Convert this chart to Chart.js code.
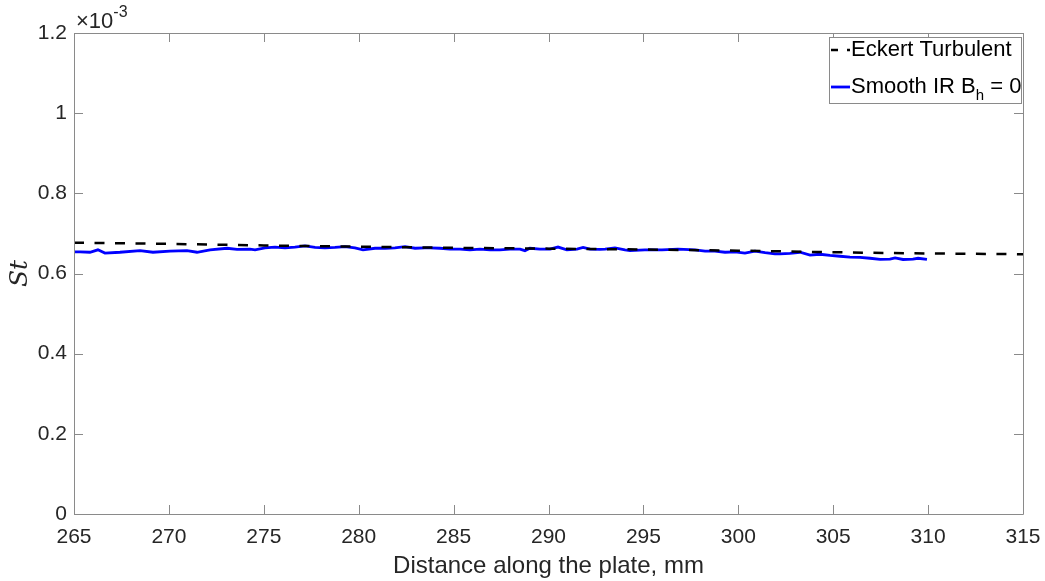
<!DOCTYPE html>
<html lang="en">
  <head>
    <meta charset="UTF-8" />
    <title>St along the plate</title>
    <script src="https://cdn.jsdelivr.net/npm/chart.js@4.4.0/dist/chart.umd.min.js"></script>
    <style>
      body { margin: 0; background: #fff; }
      #wrap { width: 1045px; height: 581px; position: relative; }
    </style>
  </head>
  <body>
    <div id="wrap"><canvas id="myChart"></canvas></div>
    <script>
      // St values are in units of 1e-3 (axis shows x10^-3)
      const eckertX = [265, 270, 275, 280, 285, 290, 295, 300, 305, 310, 315];
      const eckertSt = [0.677, 0.674, 0.670, 0.667, 0.664, 0.662, 0.660, 0.657, 0.653, 0.650, 0.648];

      const irX = [265.0, 265.32, 265.84, 266.26, 266.63, 267.42, 268.48, 269.16, 270.06, 270.95,
        271.48, 272.17, 273.06, 273.59, 274.27, 274.54, 275.06, 275.59, 276.12, 276.64,
        277.17, 277.70, 278.22, 278.75, 279.28, 279.80, 280.23, 280.86, 281.39, 281.91,
        282.44, 282.97, 283.49, 283.76, 284.28, 284.81, 285.34, 285.86, 286.39, 286.92,
        287.44, 287.97, 288.50, 288.76, 289.02, 289.55, 290.08, 290.50, 290.97, 291.50,
        291.82, 292.19, 292.71, 292.98, 293.50, 294.03, 294.29, 295.08, 295.98, 296.82,
        297.72, 298.25, 298.77, 299.30, 299.83, 300.35, 300.88, 301.41, 301.93, 302.20,
        302.72, 303.25, 303.78, 304.30, 304.83, 305.36, 305.88, 306.41, 306.94, 307.47,
        307.99, 308.26, 308.68, 309.20, 309.47, 309.94];
      const irSt = [0.654, 0.654, 0.653, 0.659, 0.651, 0.653, 0.657, 0.653, 0.656, 0.657,
        0.653, 0.659, 0.663, 0.660, 0.661, 0.659, 0.664, 0.666, 0.664, 0.666,
        0.669, 0.665, 0.664, 0.665, 0.667, 0.664, 0.659, 0.663, 0.663, 0.664,
        0.667, 0.663, 0.664, 0.664, 0.663, 0.661, 0.661, 0.659, 0.661, 0.659,
        0.659, 0.661, 0.661, 0.657, 0.663, 0.661, 0.661, 0.666, 0.659, 0.661,
        0.665, 0.661, 0.660, 0.661, 0.664, 0.659, 0.657, 0.659, 0.659, 0.661,
        0.659, 0.656, 0.656, 0.653, 0.654, 0.651, 0.656, 0.652, 0.649, 0.649,
        0.650, 0.653, 0.646, 0.648, 0.645, 0.643, 0.641, 0.640, 0.638, 0.635,
        0.636, 0.639, 0.635, 0.636, 0.638, 0.635];

      const legendNames = ['Eckert Turbulent', 'Smooth IR B', '= 0'];

      const textColor = '#262626';
      const boxColor = '#8a8a8a';

      function toPoints(xs, ys) {
        return xs.map((x, i) => ({ x: x, y: ys[i] }));
      }

      // box around plot + inward ticks on all four sides, MATLAB style
      const boxPlugin = {
        id: 'box',
        afterDatasetsDraw(chart) {
          const ctx = chart.ctx;
          const a = chart.chartArea;
          const xs = chart.scales.x, ys = chart.scales.y;
          const tl = 9;
          ctx.save();
          ctx.strokeStyle = boxColor;
          ctx.lineWidth = 1;
          ctx.beginPath();
          ctx.rect(a.left + 0.5, a.top + 0.5, a.right - a.left, a.bottom - a.top);
          ctx.stroke();
          ctx.beginPath();
          xs.ticks.forEach(t => {
            const px = Math.round(xs.getPixelForValue(t.value)) + 0.5;
            ctx.moveTo(px, a.bottom); ctx.lineTo(px, a.bottom - tl);
            ctx.moveTo(px, a.top); ctx.lineTo(px, a.top + tl);
          });
          ys.ticks.forEach(t => {
            const py = Math.round(ys.getPixelForValue(t.value)) + 0.5;
            ctx.moveTo(a.left, py); ctx.lineTo(a.left + tl, py);
            ctx.moveTo(a.right, py); ctx.lineTo(a.right - tl, py);
          });
          ctx.stroke();

          // exponent label
          ctx.fillStyle = textColor;
          ctx.textBaseline = 'alphabetic';
          ctx.textAlign = 'left';
          ctx.font = '22px "Liberation Sans", Arial, sans-serif';
          ctx.fillText('\u00d710', a.left + 2, a.top - 5);
          const w = ctx.measureText('\u00d710').width;
          ctx.font = '16px "Liberation Sans", Arial, sans-serif';
          ctx.fillText('-3', a.left + 2 + w, a.top - 16);

          // legend
          const lx = 829, ly = 37, lw = 192, lh = 66;
          ctx.fillStyle = '#fff';
          ctx.fillRect(lx, ly, lw, lh);
          ctx.strokeStyle = boxColor;
          ctx.strokeRect(lx + 0.5, ly + 0.5, lw, lh);
          const ds = chart.data.datasets;
          const rows = [50, 87];
          ds.forEach((d, i) => {
            ctx.beginPath();
            ctx.strokeStyle = d.borderColor;
            ctx.lineWidth = d.borderWidth;
            ctx.setLineDash(i === 0 ? [7, 9] : []);
            ctx.moveTo(831, rows[i]);
            ctx.lineTo(850, rows[i]);
            ctx.stroke();
          });
          ctx.setLineDash([]);
          ctx.fillStyle = '#000';
          ctx.textBaseline = 'middle';
          ctx.font = '22px "Liberation Sans", Arial, sans-serif';
          ctx.fillText(legendNames[0], 851, rows[0]);
          ctx.fillText(legendNames[1], 851, rows[1]);
          let w1 = ctx.measureText(legendNames[1]).width;
          ctx.font = '15px "Liberation Sans", Arial, sans-serif';
          ctx.fillText('h', 851 + w1, rows[1] + 9);
          let w2 = ctx.measureText('h ').width;
          ctx.font = '22px "Liberation Sans", Arial, sans-serif';
          ctx.fillText(legendNames[2], 851 + w1 + w2 + 2, rows[1]);
          ctx.restore();
        }
      };

      const ctx = document.getElementById('myChart').getContext('2d');
      const myChart = new Chart(ctx, {
        type: 'line',
        data: {
          datasets: [
            {
              label: legendNames[0],
              data: toPoints(eckertX, eckertSt),
              borderColor: '#000000',
              borderWidth: 2.5,
              borderDash: [10, 10.5],
              pointRadius: 0,
              fill: false,
              tension: 0
            },
            {
              label: legendNames[1] + 'h = 0',
              data: toPoints(irX, irSt),
              borderColor: 'rgb(0,0,255)',
              borderWidth: 2.8,
              pointRadius: 0,
              fill: false,
              tension: 0
            }
          ]
        },
        options: {
          responsive: true,
          maintainAspectRatio: false,
          animation: false,
          layout: { padding: { top: 33, right: 22, left: 0, bottom: 0 } },
          plugins: { legend: { display: false }, tooltip: { enabled: false } },
          scales: {
            x: {
              type: 'linear',
              min: 265, max: 315,
              grid: { display: false, drawTicks: false },
              border: { display: false },
              ticks: {
                stepSize: 5,
                color: textColor,
                padding: 11,
                maxRotation: 0,
                font: { family: '"Liberation Sans", Arial, sans-serif', size: 21 }
              },
              title: {
                display: true,
                text: 'Distance along the plate, mm',
                color: textColor,
                padding: { top: 0, bottom: 0 },
                font: { family: '"Liberation Sans", Arial, sans-serif', size: 24 }
              },
              afterFit(scale) {
                scale.height = 67;
                scale.paddingLeft = 0;
                scale.paddingRight = 0;
              }
            },
            y: {
              min: 0, max: 1.2,
              grid: { display: false, drawTicks: false },
              border: { display: false },
              ticks: {
                stepSize: 0.2,
                color: textColor,
                padding: 7,
                callback: v => String(Number(v.toFixed(1))),
                font: { family: '"Liberation Sans", Arial, sans-serif', size: 21 }
              },
              title: {
                display: true,
                text: 'St',
                color: textColor,
                padding: { top: 5, bottom: 0 },
                font: { family: '"DejaVu Serif", "Liberation Serif", serif', size: 25, style: 'italic' }
              },
              afterFit(scale) {
                scale.width = 74;
                scale.paddingTop = 0;
                scale.paddingBottom = 0;
              }
            }
          }
        },
        plugins: [boxPlugin]
      });
    </script>
  </body>
</html>
